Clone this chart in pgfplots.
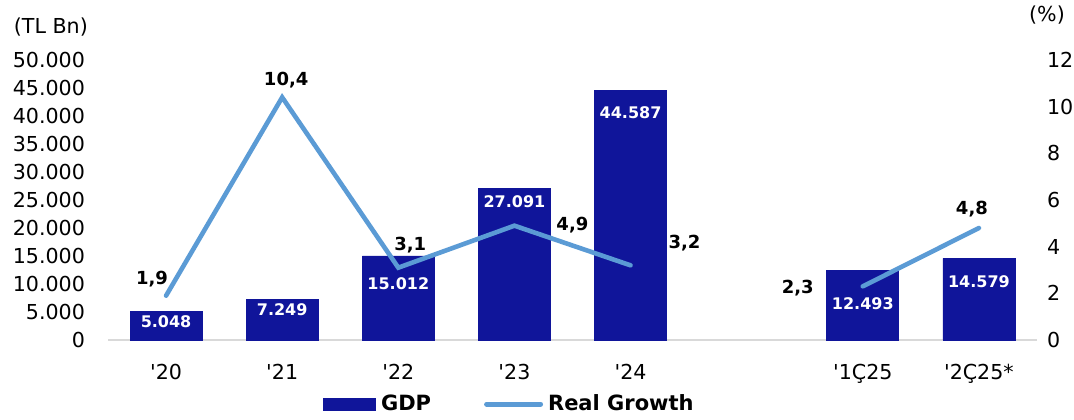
\documentclass[border=0pt]{standalone}
\usepackage{pgfplots}
\usepackage{pgfplotstable}
\pgfplotsset{compat=1.18}
\usepackage{fontspec}
\setmainfont{DejaVu Sans}[Ligatures=TeXOff]

\definecolor{gdp}{HTML}{10159A}
\definecolor{growth}{HTML}{5B9BD5}
\definecolor{baseln}{HTML}{D9D9D9}

\pgfplotstableread{
x y lab dy
0 5048 5.048 -5.2
1 7249 7.249 -5
2 15012 15.012 -14
3 27091 27.091 -6.8
4 44587 44.587 -11.3
6 12493 12.493 -17
7 14579 14.579 -11.5
}\gdpdata

\pgfplotstableread{
x y lab dx dy
0 1.9 1,9 -7 8.5
1 10.4 10,4 2 8.5
2 3.1 3,1 6 11.5
3 4.9 4,9 29 0.5
4 3.2 3,2 27 11
5 nan {} 0 0
6 2.3 2,3 -32.5 -1
7 4.8 4,8 -3.5 9.5
}\growthdata

\begin{document}
\begin{tikzpicture}
\pgfplotsset{
  every axis/.append style={
    width=464.5pt, height=140pt, scale only axis,
    xmin=-0.5, xmax=7.5, enlargelimits=false, clip=false,
    tick style={draw=none},
    ticklabel style={font=\fontsize{10.3}{12}\selectfont},
    /pgf/number format/assume math mode=true,
  }
}
\begin{axis}[
  axis x line*=bottom, axis y line*=left,
  x axis line style={draw=baseln, line width=0.8pt},
  y axis line style={draw=none},
  ymin=0, ymax=50000, ytick={0,5000,...,50000},
  scaled y ticks=false,
  yticklabel style={/pgf/number format/fixed, /pgf/number format/precision=0,
    /pgf/number format/1000 sep={.}, xshift=-8pt},
  xtick={0,1,2,3,4,6,7},
  xticklabels={'20,'21,'22,'23,'24,'1Ç25,'2Ç25*},
  xticklabel style={yshift=-8.5pt},
]
\addplot[ybar, bar width=36pt, fill=gdp, draw=gdp,
  point meta=explicit symbolic,
  visualization depends on=\thisrow{dy}\as\bdy,
  nodes near coords,
  nodes near coords style={anchor=center, yshift=\bdy pt, text=white,
    font=\bfseries\fontsize{8}{10}\selectfont},
] table[x=x, y=y, meta=lab]{\gdpdata};
\node[font=\fontsize{10.3}{12}\selectfont] at (rel axis cs:-0.0615,1.118) {(TL Bn)};
\node[font=\fontsize{10.3}{12}\selectfont] at (rel axis cs:1.0108,1.161) {(\%)};
\coordinate (O) at (rel axis cs:0,0);
\end{axis}

\begin{axis}[
  axis x line=none, axis y line*=right,
  y axis line style={draw=none},
  ymin=0, ymax=12, ytick={0,2,...,12},
  yticklabel style={xshift=1.5pt},
  unbounded coords=jump,
  legend columns=2,
  legend style={at={(0.4337,-0.229)}, anchor=center, draw=none, fill=none,
    font=\bfseries\fontsize{10.5}{12}\selectfont,
    nodes={inner ysep=1pt, inner xsep=2.5pt},
    /tikz/every even column/.append style={column sep=24pt}},
]
\addlegendimage{legend image code/.code={\fill[gdp] (0pt,-3pt) rectangle (26pt,3pt);}}
\addlegendentry{GDP}
\addplot[color=growth, line width=2.3pt, line cap=round, line join=miter,
  point meta=explicit symbolic,
  visualization depends on=\thisrow{dx}\as\ldx,
  visualization depends on=\thisrow{dy}\as\ldy,
  nodes near coords,
  nodes near coords style={anchor=center, xshift=\ldx pt, yshift=\ldy pt, text=black,
    font=\bfseries\fontsize{9}{11}\selectfont},
  legend image code/.code={\draw[growth, line width=2.5pt, line cap=round] (0pt,0pt) -- (27pt,0pt);},
] table[x=x, y=y, meta=lab]{\growthdata};
\addlegendentry{Real Growth}
\end{axis}
\pgfresetboundingbox
\useasboundingbox (O) ++(-54pt,-39.5pt) rectangle ++(537pt,209.5pt);
\end{tikzpicture}
\end{document}
